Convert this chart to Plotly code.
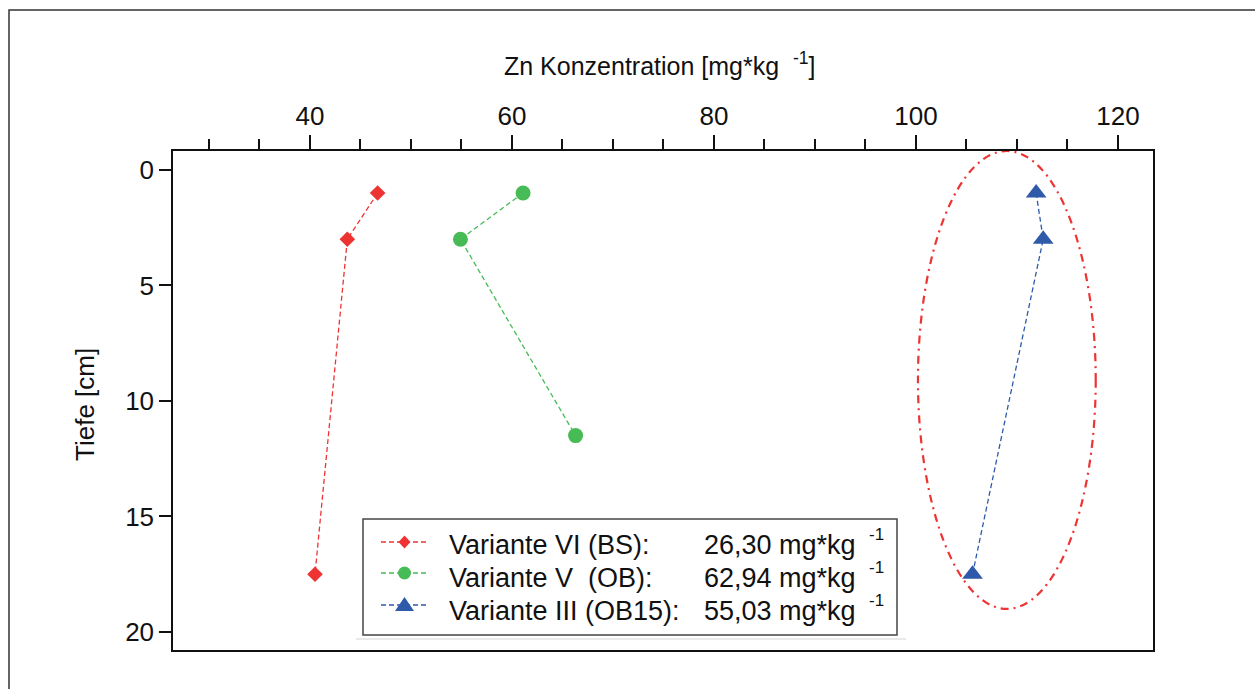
import plotly.graph_objects as go

# ---------------- Data ----------------
depth_vi = [1, 3, 17.5]
zn_vi = [46.7, 43.7, 40.5]
depth_v = [1, 3, 11.5]
zn_v = [61.1, 54.9, 66.3]
depth_iii = [1, 3, 17.5]
zn_iii = [111.9, 112.6, 105.6]

labels = ["Variante VI (BS):", "Variante V\u00a0\u00a0(OB):", "Variante III (OB15):"]
values = ["26,30 mg*kg", "62,94 mg*kg", "55,03 mg*kg"]
x_ticks = [40, 60, 80, 100, 120]
y_ticks = [0, 5, 10, 15, 20]

colors = ["#EE3333", "#47BB55", "#2F5AAA"]
symbols = ["diamond", "circle", "triangle-up"]
sizes = [12, 15, 18]

font = "Liberation Sans, Arial, sans-serif"

# plot area in pixels
L, T, W, H = 173, 151, 980, 499
def px(x):
    return (x - L) / W
def py(y):
    return (T + H - y) / H

fig = go.Figure()
for xs, ys, c, s, sz in zip([zn_vi, zn_v, zn_iii], [depth_vi, depth_v, depth_iii],
                            colors, symbols, sizes):
    fig.add_trace(go.Scatter(
        x=xs, y=ys, mode="lines+markers", showlegend=False,
        line=dict(color=c, width=1.3, dash="5px,3px"),
        marker=dict(symbol=s, size=sz, color=c),
    ))

shapes = []
# ellipse around Variante III
shapes.append(dict(type="circle", xref="x", yref="y", x0=100.2, x1=117.8, y0=-0.82, y1=19.0,
                   line=dict(color="#EE3333", width=2.2, dash="8px,5px,2px,5px")))
# outer frame
shapes.append(dict(type="rect", xref="paper", yref="paper", x0=px(9), x1=px(1400),
                   y0=py(900), y1=py(10), line=dict(color="#333333", width=1.5), layer="below"))

# ---- manual legend ----
shapes.append(dict(type="line", xref="paper", yref="paper", x0=px(356), x1=px(906),
                   y0=py(639), y1=py(639), line=dict(color="#e2e2e2", width=1.5)))
shapes.append(dict(type="rect", xref="paper", yref="paper", x0=px(363), x1=px(897),
                   y0=py(635), y1=py(519), fillcolor="white",
                   line=dict(color="#444444", width=1.5)))
row_sym_y = [542, 573, 605]
row_txt_y = [545, 578, 611]
cx = 404.5
for i, c in enumerate(colors):
    yy = row_sym_y[i]
    shapes.append(dict(type="line", xref="paper", yref="paper", x0=px(381), x1=px(428),
                       y0=py(yy), y1=py(yy), line=dict(color=c, width=1.3, dash="5px,3px")))
# diamond
y0 = row_sym_y[0]
shapes.append(dict(type="path", xref="paper", yref="paper",
                   path=f"M {px(cx-6)} {py(y0)} L {px(cx)} {py(y0-6.5)} L {px(cx+6)} {py(y0)} L {px(cx)} {py(y0+6.5)} Z",
                   fillcolor=colors[0], line=dict(width=0)))
# circle
y1 = row_sym_y[1]
shapes.append(dict(type="circle", xref="paper", yref="paper",
                   x0=px(cx-6.5), x1=px(cx+6.5), y0=py(y1+6.5), y1=py(y1-6.5),
                   fillcolor=colors[1], line=dict(width=0)))
# triangle
y2 = row_sym_y[2]
shapes.append(dict(type="path", xref="paper", yref="paper",
                   path=f"M {px(cx-9.5)} {py(y2+6)} L {px(cx+9.5)} {py(y2+6)} L {px(cx)} {py(y2-8)} Z",
                   fillcolor=colors[2], line=dict(width=0)))

annotations = []
for i in range(3):
    annotations.append(dict(xref="paper", yref="paper", x=px(447), y=py(row_txt_y[i]),
                            xanchor="left", yanchor="middle", showarrow=False,
                            text=labels[i], font=dict(size=27, family=font, color="#111111")))
    annotations.append(dict(xref="paper", yref="paper", x=px(702), y=py(row_txt_y[i]),
                            xanchor="left", yanchor="middle", showarrow=False,
                            text=values[i], font=dict(size=27, family=font, color="#111111")))
    annotations.append(dict(xref="paper", yref="paper", x=px(867), y=py(row_txt_y[i] - 11),
                            xanchor="left", yanchor="middle", showarrow=False,
                            text="-1", font=dict(size=17, family=font, color="#111111")))

# axis titles
annotations.append(dict(xref="paper", yref="paper", x=px(660), y=py(64), xanchor="center",
                        yanchor="middle", showarrow=False,
                        text="Zn Konzentration [mg*kg \u00a0<sup>-1</sup>]",
                        font=dict(size=25, family=font, color="#111111")))
annotations.append(dict(xref="paper", yref="paper", x=px(85), y=py(405), xanchor="center",
                        yanchor="middle", showarrow=False, textangle=-90,
                        text="Tiefe [cm]",
                        font=dict(size=26, family=font, color="#111111")))

fig.update_layout(
    width=1255, height=689,
    margin=dict(l=173, r=102, t=151, b=39),
    paper_bgcolor="white", plot_bgcolor="white",
    font=dict(family=font, size=26, color="#111111"),
    showlegend=False,
    shapes=shapes,
    annotations=annotations,
    xaxis=dict(
        side="top", range=[26.44, 123.47], tickvals=x_ticks,
        ticks="outside", ticklen=14, tickwidth=2, tickcolor="#111111",
        showgrid=False, zeroline=False, showline=True, linecolor="#111111",
        linewidth=1.5, mirror=True,
        minor=dict(dtick=5, tick0=0, ticks="outside", ticklen=10, tickwidth=1.5,
                   tickcolor="#111111", showgrid=False),
        tickfont=dict(size=26),
    ),
    yaxis=dict(
        range=[20.78, -0.82], tickvals=y_ticks,
        ticks="outside", ticklen=12, tickwidth=1.5, tickcolor="#111111",
        showgrid=False, zeroline=False, showline=True, linecolor="#111111",
        linewidth=1.5, mirror=True,
        tickfont=dict(size=26),
    ),
)

fig.write_html("out.html")
